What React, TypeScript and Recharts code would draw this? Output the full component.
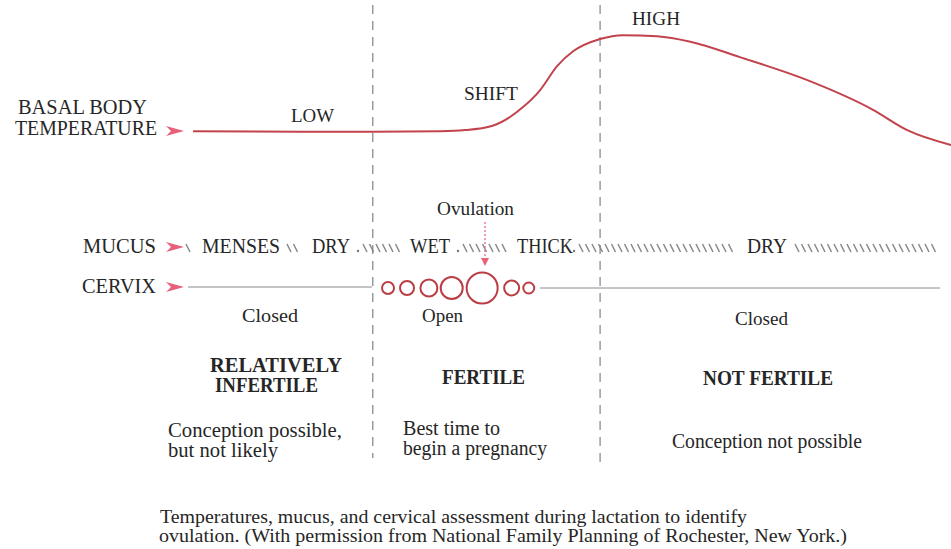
import React from 'react';
import { LineChart, Line, XAxis, YAxis, ReferenceLine, ReferenceDot, Customized } from 'recharts';

const W = 951;
const H = 549;

// basal body temperature curve: position along the cycle (%) and relative temperature level
const tempPos = [20.3, 31.6, 39.2, 46.3, 48.9, 51.8, 55.0, 56.8, 58.6, 60.3, 63.1, 65.5, 69.1, 72.6, 77.8, 84.9, 91.8, 95.4, 100];
const tempLevel = [76.1, 76.0, 76.0, 76.1, 76.3, 77.1, 80.5, 83.6, 88.0, 90.7, 92.9, 93.6, 93.4, 92.4, 89.6, 85.4, 80.0, 76.3, 73.6];

// phase boundaries (% of cycle)
const phaseBounds = [39.2, 63.1];

// cervix opening along the fertile window
const cervixPos = [40.8, 42.8, 45.1, 47.5, 50.7, 53.8, 55.6];
const cervixOpening = [6, 7, 8.5, 11, 15.5, 7.5, 5.5];

const temperatureData = tempPos.map((p, i) => ({ pos: p, temp: tempLevel[i] }));

const FONT = '"Times New Roman", "Liberation Serif", "DejaVu Serif", serif';
const INK = '#262626';
const PINK = '#e8607a';
const CURVE = '#c2434c';
const CIRCLE = '#bb3d43';

// pixel -> data helpers (plot area spans the whole svg)
const lvl = (py: number) => 100 - (py / H) * 100;
const pct = (px: number) => (px / W) * 100;

// [text, left, right, baseline, size, bold]
type T = [string, number, number, number, number, boolean?];
const texts: T[] = [
  ['BASAL BODY', 18, 147, 114, 20],
  ['TEMPERATURE', 15, 157, 135, 20],
  ['LOW', 291, 334, 122, 19],
  ['SHIFT', 464, 518, 100, 19],
  ['HIGH', 632, 680, 25, 19],
  ['Ovulation', 437, 514, 215, 19],
  ['MUCUS', 83, 156, 253, 20],
  ['MENSES', 202, 280, 253, 20],
  ['DRY', 312, 350, 253, 20],
  ['WET', 410, 450, 253, 20],
  ['THICK', 517, 573, 253, 20],
  ['DRY', 747, 787, 253, 20],
  ['CERVIX', 82, 156, 293, 20],
  ['Closed', 242, 298, 322, 19],
  ['Open', 422, 463, 322, 19],
  ['Closed', 735, 788, 325, 19],
  ['RELATIVELY', 210, 342, 372, 20, true],
  ['INFERTILE', 215, 318, 392, 20, true],
  ['FERTILE', 442, 525, 384, 20, true],
  ['NOT FERTILE', 703, 833, 385, 20, true],
  ['Conception possible,', 168, 342, 437, 20],
  ['but not likely', 168, 278, 457, 20],
  ['Best time to', 403, 500, 435, 20],
  ['begin a pregnancy', 403, 547, 455, 20],
  ['Conception not possible', 672, 862, 448, 20],
  ['Temperatures, mucus, and cervical assessment during lactation to identify', 160, 747, 523, 18.5],
  ['ovulation. (With permission from National Family Planning of Rochester, New York.)', 159, 847, 542, 18.5],
];

// hatch runs on the mucus row [from, to, leading dot]
const hatchRuns: [number, number, boolean][] = [
  [186, 194, false],
  [287, 302, false],
  [358, 400, true],
  [458, 506, true],
  [574, 734, true],
  [795, 940, false],
];

const arrows = [131, 247, 287];

const Overlay = () => {
  const marks: React.ReactNode[] = [];
  hatchRuns.forEach(([a, b, dot], i) => {
    let x = a;
    if (dot) {
      marks.push(<circle key={`d${i}`} cx={a} cy={251} r={1.2} fill="#777" />);
      x = a + 5;
    }
    for (; x <= b - 3; x += 6.5) {
      marks.push(<line key={`h${i}-${x}`} x1={x} y1={244} x2={x + 4} y2={252} stroke="#8a8a8a" strokeWidth={1.6} />);
    }
  });
  return (
    <g>
      {marks}
      {arrows.map((y) => (
        <polygon key={y} points={`${166},${y - 5} ${184},${y} ${166},${y + 5} ${171},${y}`} fill={PINK} />
      ))}
      <line x1={485} y1={222} x2={485} y2={259} stroke={PINK} strokeWidth={1.2} strokeDasharray="2 2" />
      <polygon points="481,258 489,258 485,266" fill={PINK} />
      {texts.map(([t, l, r, y, s, b], i) => (
        <text
          key={i}
          x={l}
          y={y}
          textLength={r - l}
          lengthAdjust="spacingAndGlyphs"
          style={{ fontFamily: FONT, fontSize: s, fontWeight: b ? 700 : 400 }}
          fill={INK}
        >
          {t}
        </text>
      ))}
    </g>
  );
};

export default function App() {
  const cervixY = lvl(288);
  return (
    <div style={{ position: 'absolute', left: 0, top: 0, width: W, height: H, background: '#fff' }}>
      <LineChart width={W} height={H} data={temperatureData} margin={{ top: 0, right: 0, bottom: 0, left: 0 }}>
        <XAxis type="number" dataKey="pos" domain={[0, 100]} hide />
        <YAxis type="number" domain={[0, 100]} hide />
        {phaseBounds.map((x, i) => (
          <ReferenceLine
            key={x}
            segment={[{ x, y: lvl(5) }, { x, y: lvl(i === 0 ? 458 : 466) }]}
            stroke="#7d8090"
            strokeWidth={1.2}
            strokeDasharray="9 7"
          />
        ))}
        <ReferenceLine segment={[{ x: pct(188), y: lvl(287) }, { x: pct(372), y: lvl(287) }]} stroke="#8a8a90" strokeWidth={1} />
        <ReferenceLine segment={[{ x: pct(540), y: cervixY }, { x: pct(940), y: cervixY }]} stroke="#8a8a90" strokeWidth={1} />
        {cervixPos.map((x, i) => (
          <ReferenceDot key={x} x={x} y={cervixY} r={cervixOpening[i]} fill="#fff" stroke={CIRCLE} strokeWidth={2} />
        ))}
        <Line type="monotone" dataKey="temp" stroke={CURVE} strokeWidth={2} dot={false} activeDot={false} isAnimationActive={false} />
        <Customized component={<Overlay />} />
      </LineChart>
    </div>
  );
}
